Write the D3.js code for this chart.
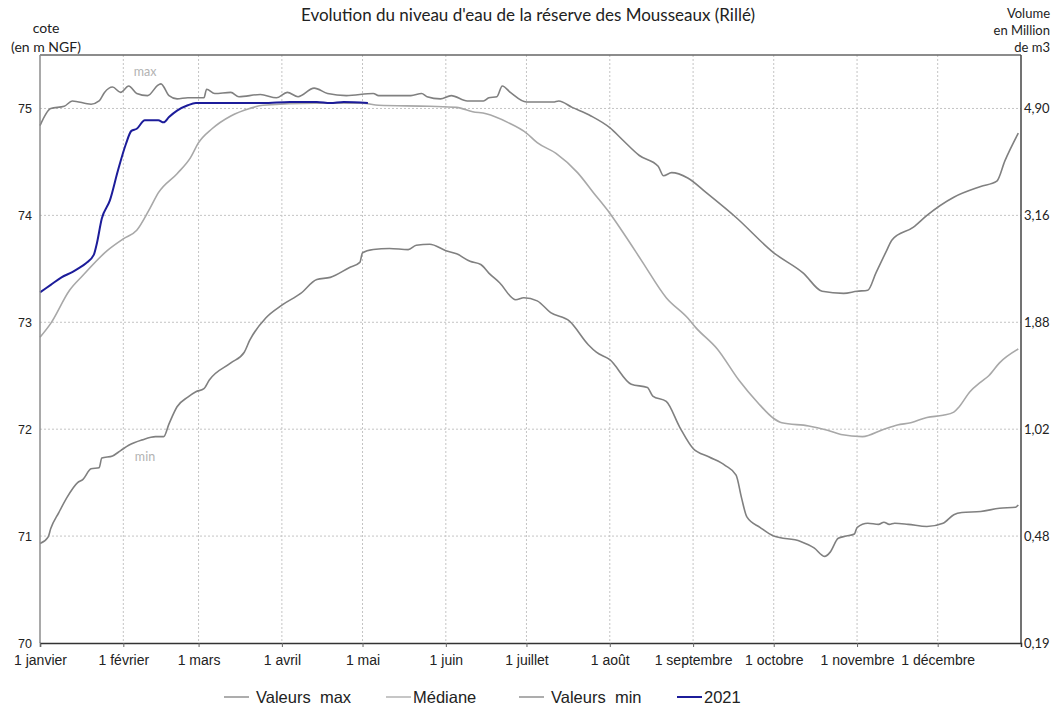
<!DOCTYPE html>
<html lang="fr">
<head>
<meta charset="utf-8">
<script src="https://cdn.jsdelivr.net/npm/d3@7"></script>
<style>
  body { margin: 0; background: #fff; }
  svg { display: block; }
  .grid line { stroke: #c4c4c4; stroke-width: 1; stroke-dasharray: 2,2; }
  .lbl { font-family: Lato, "Open Sans", sans-serif; fill: #222; }
  .arial { font-family: "Liberation Sans", Arial, sans-serif; fill: #222; }
</style>
</head>
<body>
<div id="chart"></div>
<script>
// Data (jours depuis le 1er janvier, cote en m NGF)
const maxJours = [0,4,9,12,19,22,24,27,30,33,36,40,44,45,48,51,55,61,62,65,71,74,82,88,92,96,102,107,114,124,126,138,142,144,149,153,159,165,167,170,172,175,181,191,193,198,205,212,217,223,230,232,235,241,248,259,273,284,291,299,304,308,311,315,317,325,330,340,350,356,359,364];
const maxCotes = [74.84,75.00,75.02,75.07,75.04,75.07,75.15,75.20,75.15,75.21,75.14,75.12,75.22,75.23,75.12,75.09,75.10,75.10,75.18,75.14,75.15,75.11,75.13,75.10,75.15,75.11,75.19,75.14,75.12,75.14,75.12,75.12,75.14,75.11,75.09,75.12,75.07,75.07,75.10,75.11,75.21,75.15,75.06,75.06,75.07,75.01,74.93,74.82,74.70,74.56,74.46,74.37,74.40,74.35,74.21,73.98,73.65,73.46,73.29,73.27,73.29,73.30,73.46,73.67,73.77,73.89,74.00,74.17,74.27,74.32,74.51,74.77];

const medJours = [0,4,11,16,25,31,36,41,44,51,56,59,64,71,78,83,102,120,126,145,155,161,166,174,181,185,192,200,206,212,218,224,233,241,244,252,260,267,273,276,286,293,298,306,314,319,324,330,336,340,342,346,350,353,357,364];
const medCotes = [72.86,72.99,73.30,73.44,73.67,73.78,73.86,74.07,74.21,74.39,74.54,74.68,74.81,74.93,75.00,75.03,75.05,75.05,75.03,75.02,75.01,74.97,74.95,74.87,74.77,74.68,74.58,74.40,74.21,74.02,73.80,73.57,73.23,73.04,72.95,72.75,72.46,72.25,72.10,72.06,72.03,71.99,71.95,71.93,72.00,72.04,72.06,72.11,72.13,72.16,72.21,72.35,72.44,72.50,72.62,72.75];

const minJours = [0,3,4,7,10,14,16,19,22,23,27,30,33,38,43,46,48,51,55,58,61,63,71,76,78,84,90,97,103,108,115,119,120,124,130,137,140,145,151,155,160,164,167,171,177,180,185,190,197,204,207,212,220,226,228,233,238,243,249,255,259,261,263,268,273,283,288,292,294,297,300,303,304,308,312,314,316,318,323,330,336,340,343,350,357,363,364];
const minCotes = [70.93,70.99,71.07,71.22,71.36,71.50,71.53,71.63,71.64,71.73,71.75,71.80,71.85,71.90,71.93,71.93,72.05,72.21,72.30,72.35,72.38,72.46,72.62,72.72,72.83,73.04,73.16,73.27,73.40,73.42,73.51,73.56,73.65,73.68,73.69,73.68,73.72,73.73,73.67,73.64,73.57,73.54,73.46,73.37,73.21,73.23,73.20,73.09,73.01,72.79,72.72,72.65,72.42,72.39,72.31,72.26,72.02,71.82,71.74,71.66,71.57,71.36,71.18,71.08,71.00,70.95,70.89,70.81,70.85,70.98,71.00,71.02,71.08,71.12,71.11,71.13,71.11,71.12,71.11,71.09,71.12,71.20,71.22,71.23,71.26,71.27,71.29];

const jours2021 = [0,4,8,12,14,17,20,21,23,26,29,32,34,36,39,44,46,48,51,55,58,64,71,83,93,103,108,113,122];
const cotes2021 = [73.28,73.35,73.42,73.47,73.50,73.55,73.63,73.72,73.97,74.14,74.42,74.67,74.79,74.81,74.89,74.89,74.87,74.92,74.98,75.03,75.05,75.05,75.05,75.05,75.06,75.06,75.05,75.06,75.05];

const cotesTicks = [70, 71, 72, 73, 74, 75];
const volumeTicks = ["0,19", "0,48", "1,02", "1,88", "3,16", "4,90"];
const moisLabels = ["1 janvier", "1 février", "1 mars", "1 avril", "1 mai", "1 juin",
    "1 juillet", "1 août", "1 septembre", "1 octobre", "1 novembre", "1 décembre"];

// Configuration
const config = {
    width: 1059,
    height: 711,
    left: 40,
    right: 1021,
    top: 55,
    bottom: 643
};

const debut = new Date(2021, 0, 1);
const fin = new Date(2022, 0, 1);

const x = d3.scaleTime().domain([debut, fin]).range([config.left, config.right]);
const y = d3.scaleLinear().domain([70, 75.5]).range([config.bottom, config.top]);

const svg = d3.select('#chart')
    .append('svg')
    .attr('width', config.width)
    .attr('height', config.height);

const mois = d3.timeMonth.range(debut, fin);

// Grid
const grid = svg.append('g').attr('class', 'grid');
grid.selectAll('.gx')
    .data(mois.slice(1))
    .join('line')
    .attr('x1', d => x(d)).attr('x2', d => x(d))
    .attr('y1', config.top).attr('y2', config.bottom);
grid.selectAll('.gy')
    .data(cotesTicks.slice(1))
    .join('line')
    .attr('x1', config.left).attr('x2', config.right)
    .attr('y1', d => y(d)).attr('y2', d => y(d));

// Series
const toPoints = (jours, cotes) => jours.map((j, i) => ({ date: d3.timeDay.offset(debut, j), cote: cotes[i] }));

const line = d3.line()
    .x(d => x(d.date))
    .y(d => y(d.cote))
    .curve(d3.curveMonotoneX);

const series = [
    { name: 'Valeurs  max', points: toPoints(maxJours, maxCotes), color: '#808080', width: 1.6 },
    { name: 'Médiane', points: toPoints(medJours, medCotes), color: '#a8a8a8', width: 1.6 },
    { name: 'Valeurs  min', points: toPoints(minJours, minCotes), color: '#808080', width: 1.6 },
    { name: '2021', points: toPoints(jours2021, cotes2021), color: '#1c1c9a', width: 2 }
];

svg.selectAll('.serie')
    .data(series)
    .join('path')
    .attr('class', 'serie')
    .attr('fill', 'none')
    .attr('stroke', d => d.color)
    .attr('stroke-width', d => d.width)
    .attr('stroke-linejoin', 'round')
    .attr('d', d => line(d.points));

// Frame
svg.append('line').attr('x1', config.left).attr('x2', config.right)
    .attr('y1', config.top).attr('y2', config.top)
    .attr('stroke', '#666').attr('stroke-width', 1.3);
svg.append('line').attr('x1', config.left).attr('x2', config.left)
    .attr('y1', config.top).attr('y2', config.bottom)
    .attr('stroke', '#8c8c8c').attr('stroke-width', 1.5);
svg.append('line').attr('x1', config.right).attr('x2', config.right)
    .attr('y1', config.top).attr('y2', config.bottom)
    .attr('stroke', '#444').attr('stroke-width', 1.5);

// Axes
const xAxis = svg.append('g')
    .attr('transform', `translate(0,${config.bottom})`)
    .call(d3.axisBottom(x).tickValues(mois).tickSize(4).tickFormat((d, i) => moisLabels[i]));
xAxis.select('.domain').attr('stroke', '#333').attr('stroke-width', 1.5);
xAxis.selectAll('.tick line').attr('stroke', '#666');
xAxis.selectAll('.tick text')
    .attr('class', 'arial')
    .attr('y', 12)
    .style('font-size', '14px')
    .attr('fill', '#222');

const yAxis = svg.append('g')
    .attr('transform', `translate(${config.left - 8},0)`)
    .call(d3.axisLeft(y).tickValues(cotesTicks).tickSize(0).tickPadding(0).tickFormat(d3.format('d')));
yAxis.select('.domain').remove();
yAxis.selectAll('.tick text')
    .attr('class', 'arial')
    .style('font-size', '12.5px')
    .attr('fill', '#222');

const yAxisRight = svg.append('g')
    .attr('transform', `translate(${config.right},0)`)
    .call(d3.axisRight(y).tickValues(cotesTicks).tickSize(0).tickPadding(3)
        .tickFormat((d, i) => volumeTicks[i]));
yAxisRight.select('.domain').remove();
yAxisRight.selectAll('.tick text')
    .attr('class', 'lbl')
    .style('font-size', '13px')
    .attr('fill', '#222');

// Texts
svg.append('text').attr('class', 'lbl')
    .attr('x', 528).attr('y', 21)
    .attr('text-anchor', 'middle')
    .style('font-size', '17px')
    .text("Evolution du niveau d'eau de la réserve des Mousseaux (Rillé)");

svg.append('text').attr('class', 'lbl')
    .attr('x', 46).attr('y', 33)
    .attr('text-anchor', 'middle')
    .style('font-size', '14px')
    .text('cote');
svg.append('text').attr('class', 'lbl')
    .attr('x', 46).attr('y', 52)
    .attr('text-anchor', 'middle')
    .style('font-size', '14px')
    .text('(en m NGF)');

['Volume', 'en Million', 'de m3'].forEach((t, i) => {
    svg.append('text').attr('class', 'lbl')
        .attr('x', 1050).attr('y', 18 + i * 17)
        .attr('text-anchor', 'end')
        .style('font-size', '13px')
        .text(t);
});

svg.append('text').attr('class', 'lbl')
    .attr('x', 145).attr('y', 76)
    .attr('text-anchor', 'middle')
    .style('font-size', '12.5px')
    .style('fill', '#b3b3b3')
    .text('max');
svg.append('text').attr('class', 'lbl')
    .attr('x', 145).attr('y', 461)
    .attr('text-anchor', 'middle')
    .style('font-size', '12.5px')
    .style('fill', '#b3b3b3')
    .text('min');

// Legend
const legendX = [224, 386, 519, 677];
const legend = svg.append('g').attr('class', 'legend');
const item = legend.selectAll('g')
    .data(series)
    .join('g')
    .attr('transform', (d, i) => `translate(${legendX[i]},697)`);
item.append('line')
    .attr('x1', 0).attr('x2', 25)
    .attr('stroke', d => d.color)
    .attr('stroke-width', d => d.name === '2021' ? 2 : 1.3);
item.append('text')
    .attr('class', 'arial')
    .attr('x', (d, i) => i === 1 || i === 3 ? 27 : 32)
    .attr('y', 6)
    .style('font-size', '16.5px')
    .style('white-space', 'pre')
    .text(d => d.name);
</script>
</body>
</html>
